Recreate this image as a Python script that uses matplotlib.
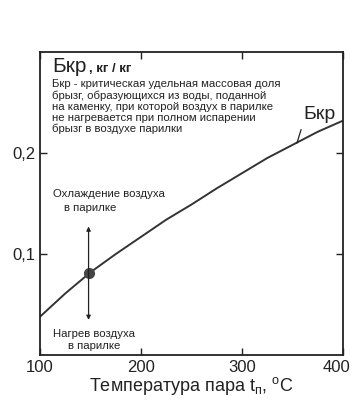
import numpy as np
import matplotlib
matplotlib.use("Agg")
import matplotlib.pyplot as plt
import matplotlib.transforms as mtransforms

plt.rcParams['font.family'] = ['Liberation Sans', 'DejaVu Sans']

# Данные кривой Бкр
t_par = [100, 125, 150, 175, 200, 225, 250, 275, 300, 325, 350, 375, 400]
b_kr = [0.038, 0.061, 0.082, 0.100, 0.117, 0.134, 0.149, 0.165, 0.180,
        0.195, 0.208, 0.221, 0.232]

# Рабочая точка
t_point = 148
b_point = 0.081

x_ticks = [100, 200, 300, 400]
y_ticks = [0.1, 0.2]
y_labels = ['0,1', '0,2']

fig = plt.figure(figsize=(3.55, 4.0), dpi=100)
ax = fig.add_axes([0.113, 0.1125, 0.853, 0.7575])

ax.plot(t_par, b_kr, color='#333333', lw=1.4)
ax.plot(t_point, b_point, 'o', color='#444444', ms=7)

# Стрелка вверх/вниз от точки
ax.annotate('', xy=(t_point, 0.130), xytext=(t_point, 0.032),
            arrowprops=dict(arrowstyle='<|-|>', color='#222222', lw=0.9,
                            mutation_scale=6))

ax.set_xlim(100, 400)
ax.set_ylim(0, 0.3)
ax.set_xticks(x_ticks)
ax.set_yticks(y_ticks)
ax.set_yticklabels(y_labels)
ax.tick_params(direction='in', length=5, width=1, top=True, right=True,
               labelsize=12, colors='#222222')
for s in ax.spines.values():
    s.set_linewidth(1.3)
    s.set_color('#222222')

# последняя подпись "400" прижата к краю
lab = ax.get_xticklabels()[-1]
lab.set_ha('right')
lab.set_transform(lab.get_transform() +
                  mtransforms.ScaledTranslation(7 / 100, 0, fig.dpi_scale_trans))

ax.set_xlabel('Температура пара t$_\\mathregular{п}$, $^\\mathregular{o}$С',
              fontsize=13, labelpad=0, color='#222222')

# Заголовок
ax.text(112, 0.280, 'Бкр', fontsize=15, color='#222222')
ax.text(148, 0.280, ', кг / кг', fontsize=9.5, fontweight='bold', color='#222222')

ax.text(112, 0.273,
        'Бкр - критическая удельная массовая доля\n'
        'брызг, образующихся из воды, поданной\n'
        'на каменку, при которой воздух в парилке\n'
        'не нагревается при полном испарении\n'
        'брызг в воздухе парилки',
        fontsize=8.2, va='top', linespacing=1.13, color='#222222')

ax.text(361, 0.234, 'Бкр', fontsize=14, color='#222222')
ax.plot([354.5, 358.5], [0.210, 0.223], color='#222222', lw=0.9)

ax.text(113, 0.159, 'Охлаждение воздуха', fontsize=8.2, ha='left', va='center', color='#222222')
ax.text(149.5, 0.146, 'в парилке', fontsize=8.2, ha='center', va='center', color='#222222')
ax.text(153.5, 0.021, 'Нагрев воздуха', fontsize=8.2, ha='center', va='center', color='#222222')
ax.text(153.5, 0.009, 'в парилке', fontsize=8.2, ha='center', va='center', color='#222222')

fig.savefig('out.png', dpi=100)
